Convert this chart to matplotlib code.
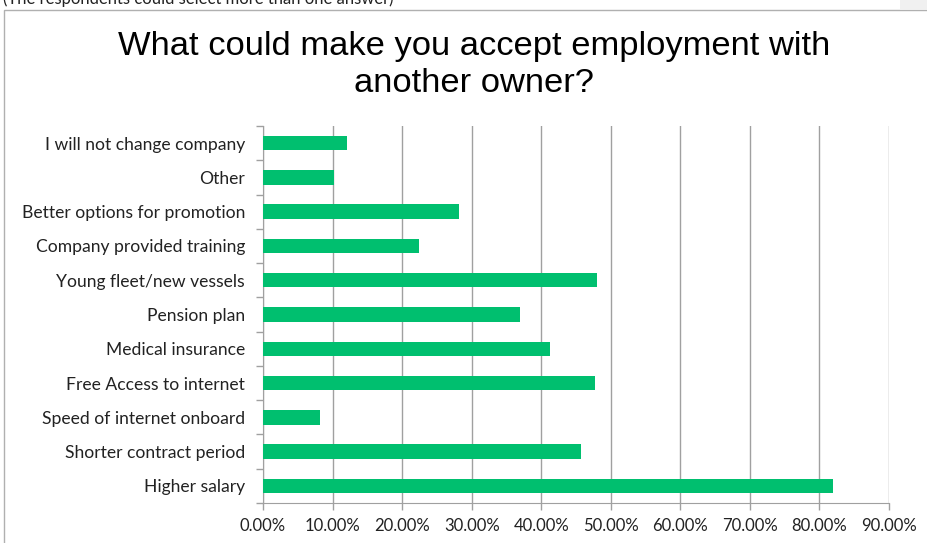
import numpy as np
import matplotlib.pyplot as plt
from matplotlib.patches import Rectangle

reasons = ["Higher salary", "Shorter contract period", "Speed of internet onboard",
           "Free Access to internet", "Medical insurance", "Pension plan",
           "Young fleet/new vessels", "Company provided training",
           "Better options for promotion", "Other", "I will not change company"]
shares = [0.820, 0.457, 0.082, 0.478, 0.412, 0.369, 0.480, 0.224, 0.282, 0.102, 0.121]
xticks = np.arange(0, 0.91, 0.1)

W, H = 927, 543
fig = plt.figure(figsize=(W / 100, H / 100), dpi=100)
ax = fig.add_axes([263 / W, 1 - 503 / H, (889 - 263) / W, (503 - 126) / H])

y = np.arange(len(reasons))
ax.barh(y, shares, height=0.42, color="#00BF6F", zorder=3)
ax.set_ylim(-0.5, len(reasons) - 0.5)
ax.set_xlim(0, 0.9)

fam = ["Lato", "DejaVu Sans"]
ax.set_yticks(y)
ax.set_yticklabels(reasons, family=fam, size=12.6, color="#222222")
ax.set_yticks(np.arange(len(reasons) + 1) - 0.5, minor=True)
ax.tick_params(axis="y", which="major", length=0, pad=13)
ax.tick_params(axis="y", which="minor", length=5, color="#a0a0a0", width=1)

ax.set_xticks(xticks)
ax.set_xticklabels(["{:.2f}%".format(v * 100) for v in xticks], family=fam, size=12, color="#222222")
ax.tick_params(axis="x", length=5, color="#a0a0a0", width=1, pad=6)
ax.grid(axis="x", color="#a0a0a0", linewidth=1, zorder=0)

for side in ["top", "right"]:
    ax.spines[side].set_visible(False)
for side in ["left", "bottom"]:
    ax.spines[side].set_color("#a0a0a0")

fig.text(474 / W, 1 - 65 / H, "What could make you accept employment with\nanother owner?",
         ha="center", va="center", fontsize=24.8, family=["Liberation Sans", "DejaVu Sans"],
         linespacing=1.22)

# note above the chart frame, mostly cut off
fig.text(3 / W, 1 - 4 / H, "(The respondents could select more than one answer)",
         ha="left", va="baseline", fontsize=12, family=fam, color="#222222")

fig.patches.append(Rectangle((900 / W, 1 - 9 / H), 27 / W, 9 / H, transform=fig.transFigure,
                             facecolor="#f0f0f0", edgecolor="none"))
fig.patches.append(Rectangle((4 / W, -0.05), 1.1, 1 - 9.5 / H + 0.05, transform=fig.transFigure,
                             facecolor="none", edgecolor="#b0b0b0", linewidth=1))

fig.savefig("out.png", dpi=100)
